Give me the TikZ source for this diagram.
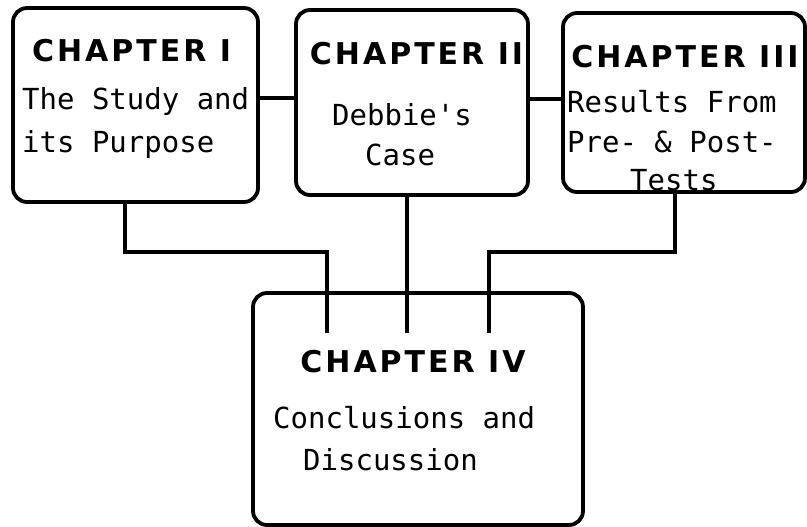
\documentclass[tikz,border=0pt]{standalone}
\usepackage{fontspec}
\setmainfont{DejaVu Sans Mono}
\newfontfamily\headfont[LetterSpace=10]{DejaVu Sans}
\begin{document}
\begin{tikzpicture}[x=1pt,y=-1pt,
  box/.style={draw, line width=3.8pt, rounded corners=14pt, inner sep=0pt},
  conn/.style={line width=4.2pt},
  head/.style={anchor=base, inner sep=0pt, font=\headfont\bfseries\fontsize{30}{34}\selectfont},
  body/.style={anchor=base west, inner sep=0pt, font=\fontsize{29}{34}\selectfont}]
\useasboundingbox (0,0) rectangle (807,527);

% chapter boxes
\node[box, minimum width=245pt, minimum height=194pt] (b1) at (135.5,105) {};
\node[box, minimum width=232pt, minimum height=185pt] (b2) at (412,102.5) {};
\node[box, minimum width=242pt, minimum height=179pt] (b3) at (684,102.5) {};
\node[box, minimum width=330pt, minimum height=232pt] (b4) at (418,409) {};

% ends of the feeders inside the last box
\coordinate (e1) at (327,333);
\coordinate (e2) at (407,333);
\coordinate (e3) at (489,333);

% links between the upper boxes
\draw[conn] (b1.east |- 0,98) -- (b2.west |- 0,98);
\draw[conn] (b2.east |- 0,99) -- (b3.west |- 0,99);

% feeders into chapter IV
\draw[conn] (b1.south -| 125,0) |- (e1 |- 0,252) -- (e1);
\draw[conn] (b2.south -| e2) -- (e2);
\draw[conn] (b3.south -| 675,0) |- (e3 |- 0,252) -- (e3);

% texts
\node[head] (h1) at (131.5,62) {CHAPTER I};
\node[body] (t1a) at (22,110) {The Study and};
\node[body] (t1b) at (22,153) {its Purpose};

\node[head] (h2) at (416.5,65) {CHAPTER II};
\node[body] (t2a) at (332,125) {Debbie\textquotesingle s};
\node[body] (t2b) at (365,165) {Case};

\node[head] (h3) at (685,68) {CHAPTER III};
\node[body] (t3a) at (567,113) {Results From};
\node[body] (t3b) at (567,153) {Pre- \& Post-};
\node[body] (t3c) at (630,190) {Tests};

\node[head] (h4) at (413,372) {CHAPTER IV};
\node[body] (t4a) at (273,428) {Conclusions and};
\node[body] (t4b) at (303,470) {Discussion};
\end{tikzpicture}
\end{document}
